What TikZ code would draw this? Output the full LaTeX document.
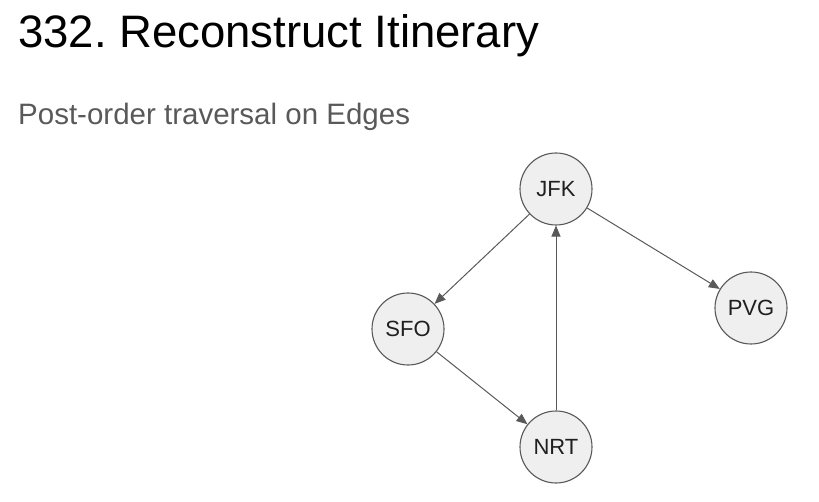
\documentclass[tikz,border=0pt]{standalone}
\usepackage{fontspec}
\setmainfont{Liberation Sans}
\usetikzlibrary{arrows.meta}
\definecolor{nodefill}{HTML}{EFEFEF}
\definecolor{edgecol}{HTML}{595959}
\definecolor{subcol}{HTML}{595959}
\frenchspacing
\begin{document}
\begin{tikzpicture}[x=1pt,y=-1pt,
  airport/.style={circle, draw=edgecol, line width=1.1pt, fill=nodefill, minimum size=72pt, inner sep=0pt, font=\fontsize{22}{22}\selectfont, text=black!88},
  flight/.style={draw=edgecol, line width=1pt, -{Triangle[length=11pt,width=9pt]}}]
\useasboundingbox (0,0) rectangle (819,502);
\node[anchor=base west, inner sep=0pt, font=\fontsize{45.5}{45.5}\selectfont] (title) at (18,48) {332. Reconstruct Itinerary};
\node[anchor=base west, inner sep=0pt, font=\fontsize{29.5}{29.5}\selectfont, text=subcol] (sub) at (18,125) {Post-order traversal on Edges};
\node[airport] (jfk) at (556,189) {\raisebox{-2pt}{JFK}};
\node[airport] (sfo) at (408,329) {\raisebox{-2pt}{SFO}};
\node[airport] (nrt) at (556,447) {\raisebox{-2pt}{NRT}};
\node[airport] (pvg) at (751,308) {\raisebox{-2pt}{PVG}};
\draw[flight] (jfk) -- (sfo);
\draw[flight] (jfk) -- (pvg);
\draw[flight] (sfo) -- (nrt);
\draw[flight] (nrt) -- (jfk);
\end{tikzpicture}
\end{document}
